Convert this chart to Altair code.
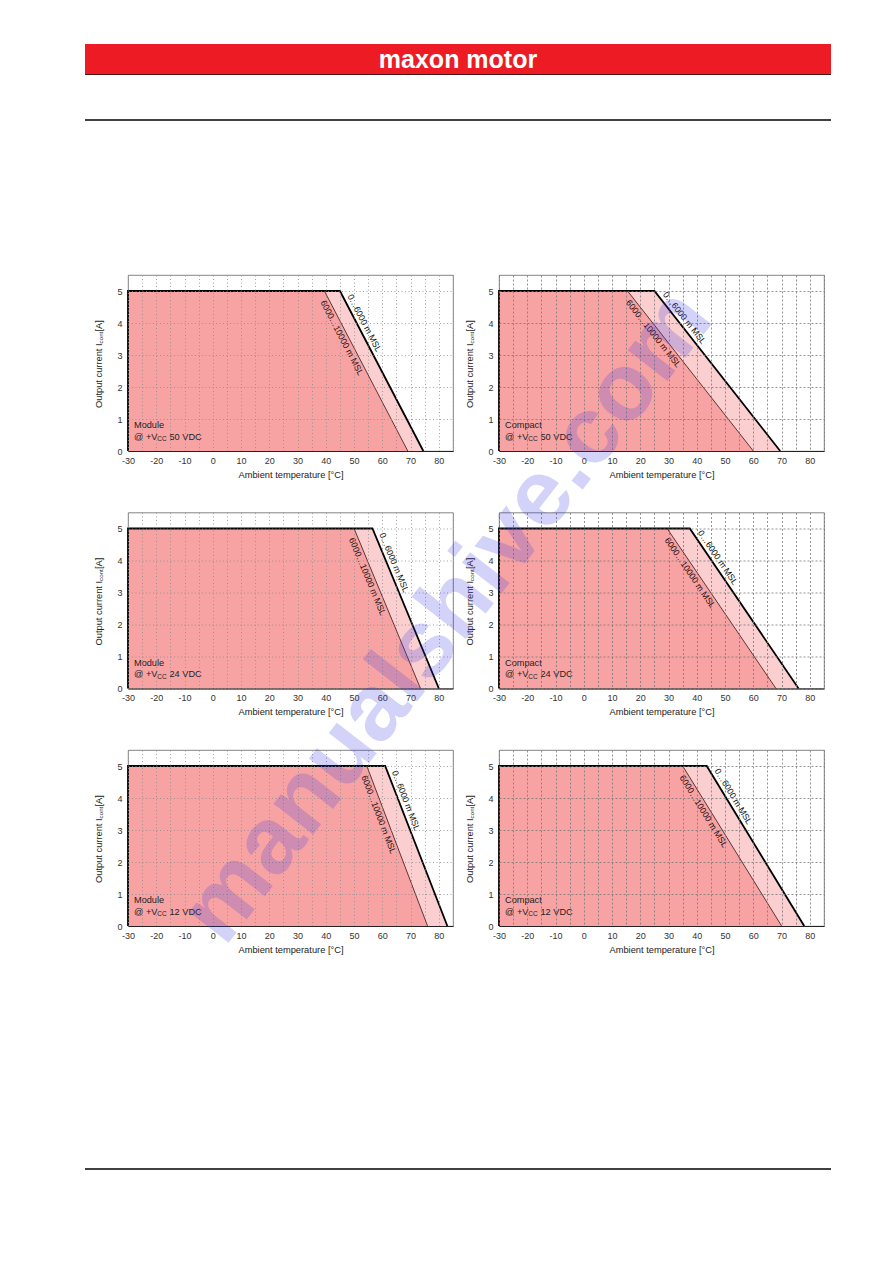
import math
import altair as alt
import pandas as pd

# ---------------- data ----------------
panel_types = ["Module", "Compact", "Module", "Compact", "Module", "Compact"]
supply_vdc = [50, 50, 24, 24, 12, 12]
# 0…6000 m MSL : end of the 5 A plateau and temperature where current reaches 0 A
knee_low_alt = [45, 25, 56.5, 37.5, 61, 43.5]
zero_low_alt = [74.5, 69.5, 80, 76, 83, 78]
# 6000…10000 m MSL
knee_high_alt = [39.5, 15.5, 50, 29.5, 54.5, 35]
zero_high_alt = [69, 60, 73.5, 68, 76, 70]

t_min = -30
i_max = 5
x_domain = [-30, 85]
y_domain = [0, 5.5]
x_ticks = list(range(-30, 90, 5))
y_ticks = [0, 1, 2, 3, 4, 5]

label_low = "0…6000 m MSL"
label_high = "6000…10000 m MSL"
x_title = "Ambient temperature [°C]"
y_title_parts = ["Output current I", "cont", " [A]"]
brand = "maxon motor"
watermark = "manualshive.com"

# ---------------- style ----------------
W, H = 325, 176
FONT = "Liberation Sans"
LIGHT = "#fbcfcf"
DARK = "#f8a3a3"
RED = "#ed1c24"


def one(text):
    return pd.DataFrame({"t": [text]})


def make_panel(k):
    compact = panel_types[k] == "Compact"
    gdash = [2, 2] if compact else [1, 2.5]
    gcol = "#777777" if compact else "#8a8a8a"
    xs = alt.Scale(domain=x_domain, nice=False, zero=False)
    ys = alt.Scale(domain=y_domain, nice=False, zero=False)
    X = alt.X(
        "x:Q", scale=xs,
        axis=alt.Axis(values=x_ticks,
                      labelExpr="datum.value % 10 === 0 ? '' + datum.value : ''",
                      grid=True, gridDash=gdash, gridColor=gcol, gridWidth=0.8,
                      ticks=False, domain=True, domainColor="#222", domainWidth=1,
                      labelPadding=5, labelFlush=False, labelOverlap=False,
                      title=x_title, titlePadding=5, zindex=1))
    Y = alt.Y(
        "y:Q", scale=ys,
        axis=alt.Axis(values=y_ticks, format="d",
                      grid=True, gridDash=gdash, gridColor=gcol, gridWidth=0.8,
                      ticks=False, domain=False, labelPadding=6,
                      labelFlush=False, labelOverlap=False, title=None, zindex=1))

    kl, zl = knee_low_alt[k], zero_low_alt[k]
    kh, zh = knee_high_alt[k], zero_high_alt[k]

    light = pd.DataFrame({"x": [t_min, kl, zl], "y": [i_max, i_max, 0], "y0": [0, 0, 0]})
    dark = pd.DataFrame({"x": [t_min, kh, zh], "y": [i_max, i_max, 0], "y0": [0, 0, 0]})
    outline = pd.DataFrame({"x": [t_min, t_min, kl, zl], "y": [0, i_max, i_max, 0], "i": [0, 1, 2, 3]})
    thin = pd.DataFrame({"x": [t_min, kh, zh], "y": [i_max, i_max, 0], "i": [0, 1, 2]})

    ppx = W / (x_domain[1] - x_domain[0])
    ppy = H / (y_domain[1] - y_domain[0])
    a_low = math.degrees(math.atan2(i_max * ppy, (zl - kl) * ppx))
    a_high = math.degrees(math.atan2(i_max * ppy, (zh - kh) * ppx))
    lab_low = pd.DataFrame({"x": [kl], "y": [i_max], "t": [label_low], "ang": [a_low]})
    lab_high = pd.DataFrame({"x": [kh], "y": [i_max], "t": [label_high], "ang": [a_high]})

    layers = [
        alt.Chart(light).mark_area(color=LIGHT).encode(x=X, y=Y, y2="y0:Q"),
        alt.Chart(dark).mark_area(color=DARK).encode(x=X, y=Y, y2="y0:Q"),
        alt.Chart(thin).mark_line(color="#3a1212", strokeWidth=0.8).encode(x=X, y=Y, order="i:Q"),
        alt.Chart(outline).mark_line(color="#000", strokeWidth=1.8).encode(x=X, y=Y, order="i:Q"),
        alt.Chart(lab_low).mark_text(align="left", baseline="bottom", dx=8, dy=-2,
                                     fontSize=8.8, color="#111").encode(
            x=X, y=Y, text="t:N", angle=alt.Angle("ang:Q", scale=None)),
        alt.Chart(lab_high).mark_text(align="left", baseline="top", dx=8, dy=2,
                                      fontSize=8.8, color="#2a0d0d").encode(
            x=X, y=Y, text="t:N", angle=alt.Angle("ang:Q", scale=None)),
        # y-axis title with subscript
        alt.Chart(one(y_title_parts[0])).mark_text(
            angle=270, align="left", baseline="middle", dx=-45, fontSize=9.3, color="#222").encode(
            x=alt.value(-29.5), y=alt.value(H / 2), text="t:N"),
        alt.Chart(one(y_title_parts[1])).mark_text(
            angle=270, align="left", baseline="middle", dx=19.6, dy=2.2, fontSize=6.2, color="#222").encode(
            x=alt.value(-29.5), y=alt.value(H / 2), text="t:N"),
        alt.Chart(one(y_title_parts[2])).mark_text(
            angle=270, align="left", baseline="middle", dx=31.4, fontSize=9.3, color="#222").encode(
            x=alt.value(-29.5), y=alt.value(H / 2), text="t:N"),
        # in-plot annotation
        alt.Chart(one(panel_types[k])).mark_text(
            align="left", baseline="middle", fontSize=9.2, color="#222").encode(
            x=alt.value(6), y=alt.value(H - 25.7), text="t:N"),
        alt.Chart(one("@ +V")).mark_text(
            align="left", baseline="middle", fontSize=9.2, color="#222").encode(
            x=alt.value(6), y=alt.value(H - 14.3), text="t:N"),
        alt.Chart(one("CC")).mark_text(
            align="left", baseline="middle", fontSize=6.5, dx=23.3, dy=2.5, color="#222").encode(
            x=alt.value(6), y=alt.value(H - 14.3), text="t:N"),
        alt.Chart(one(f"{supply_vdc[k]} VDC")).mark_text(
            align="left", baseline="middle", fontSize=9.2, dx=35.5, color="#222").encode(
            x=alt.value(6), y=alt.value(H - 14.3), text="t:N"),
    ]

    if k == 0:  # page header, positioned relative to the first panel
        layers += [
            alt.Chart(one("bar")).mark_rect(color=RED).encode(
                x=alt.value(-43), x2=alt.value(703), y=alt.value(-231), y2=alt.value(-201)),
            alt.Chart(one("bar")).mark_rule(color="#4a1515", strokeWidth=1.2).encode(
                x=alt.value(-43), x2=alt.value(703), y=alt.value(-200.5)),
            alt.Chart(one(brand)).mark_text(
                align="center", baseline="middle", fontSize=25, fontWeight="bold",
                color="white").encode(x=alt.value(330), y=alt.value(-215), text="t:N"),
            alt.Chart(one("line")).mark_rule(color="#000", strokeWidth=1.3).encode(
                x=alt.value(-43), x2=alt.value(703), y=alt.value(-155)),
        ]
    if k == 4:  # page footer line
        layers += [
            alt.Chart(one("line")).mark_rule(color="#000", strokeWidth=1.3).encode(
                x=alt.value(-43), x2=alt.value(703), y=alt.value(419)),
        ]
    if k == 5:  # diagonal watermark, drawn last
        layers += [
            alt.Chart(one(watermark)).mark_text(
                align="center", baseline="middle", fontSize=95, fontWeight="bold",
                angle=308, color="#3c3ce6", opacity=0.22).encode(
                x=alt.value(-52), y=alt.value(-134), text="t:N"),
        ]

    return alt.layer(*layers).properties(width=W, height=H)


chart = (
    alt.concat(*[make_panel(k) for k in range(6)], columns=2,
               spacing={"row": 61.5, "column": 46}, bounds="flush")
    .properties(padding={"left": 83, "top": 43, "right": 10, "bottom": 10}, background="white")
    .configure(font=FONT)
    .configure_view(stroke="#666", strokeWidth=0.8)
    .configure_axis(labelFont=FONT, labelFontSize=9, labelColor="#333",
                    titleFont=FONT, titleFontSize=9.3, titleFontWeight="normal", titleColor="#222")
)

chart.save("out.html", embed_options={"renderer": "svg", "actions": False})
